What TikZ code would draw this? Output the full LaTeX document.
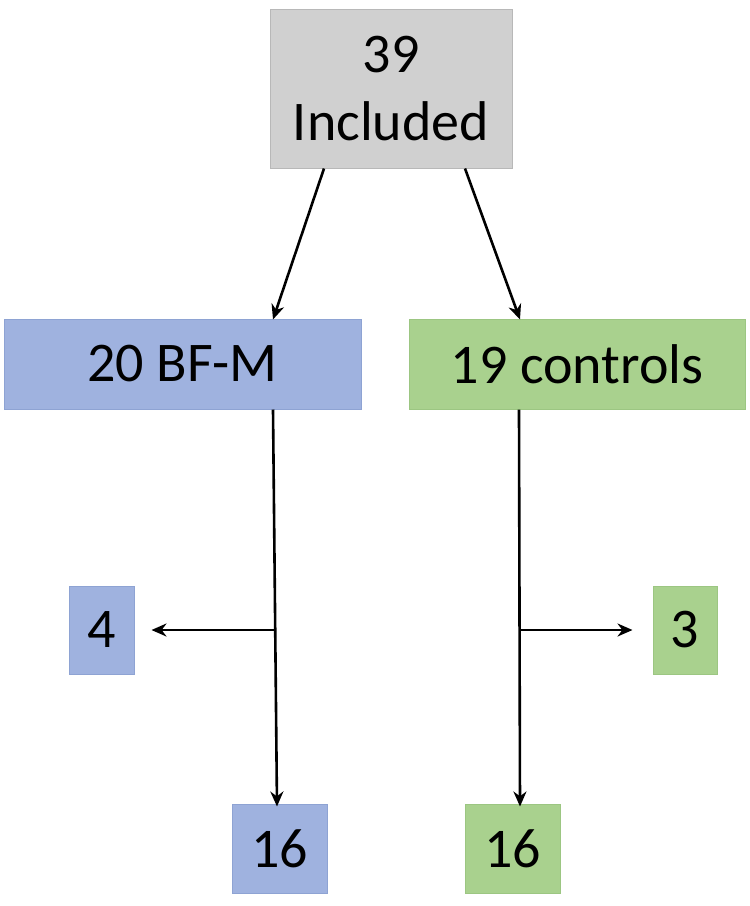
\documentclass[tikz,border=0pt]{standalone}
\usepackage{fontspec}
\setmainfont{Carlito}
\usetikzlibrary{arrows.meta,calc}
\definecolor{graybox}{HTML}{D0D0D0}
\definecolor{grayline}{HTML}{B8B8B8}
\definecolor{bluebox}{HTML}{9FB2DF}
\definecolor{blueline}{HTML}{8EA3D3}
\definecolor{greenbox}{HTML}{A9D18E}
\definecolor{greenline}{HTML}{9CC682}
\tikzset{
  box/.style={rectangle, inner sep=0pt, font=\fontsize{56}{68}\selectfont, text=black, align=center, line width=1pt},
  grayb/.style={box, fill=graybox, draw=grayline},
  blueb/.style={box, fill=bluebox, draw=blueline},
  greenb/.style={box, fill=greenbox, draw=greenline},
  arr/.style={line width=2.6pt, -{Stealth[length=15pt,width=13pt]}}
}
\begin{document}
\begin{tikzpicture}[x=1pt,y=-1pt]
\useasboundingbox (0,0) rectangle (750,906);
\node[grayb, minimum width=242pt, minimum height=159pt] (top) at (391,88.5) {39\\Included};
\node[blueb, minimum width=357pt, minimum height=90pt] (bfm) at (182.5,364) {20 BF-M};
\node[greenb, minimum width=336pt, minimum height=90pt] (ctrl) at (577,364) {19 controls};
\node[blueb, minimum width=65pt, minimum height=88pt] (four) at (101.5,630) {4};
\node[greenb, minimum width=64pt, minimum height=88pt] (three) at (685,630) {3};
\node[blueb, minimum width=95pt, minimum height=89pt] (l16) at (279.5,848.5) {16};
\node[greenb, minimum width=95pt, minimum height=89pt] (r16) at (512.5,848.5) {16};
\coordinate (lbr) at (274.5,630);
\coordinate (rbr) at (519.5,630);
\draw[arr] ([xshift=-67pt]top.south) -- ([xshift=90.5pt,yshift=-1pt]bfm.north);
\draw[arr] ([xshift=74pt]top.south) -- ([xshift=-57pt,yshift=-1pt]ctrl.north);
\draw[arr] ([xshift=90.5pt]bfm.south) -- ([xshift=-2.5pt,yshift=-3pt]l16.north);
\draw[arr] (lbr) -- ([xshift=17pt]four.east);
\draw[arr] ([xshift=-58pt]ctrl.south) -- ([xshift=7.5pt,yshift=-3pt]r16.north);
\draw[arr] (rbr) -- ([xshift=-20pt]three.west);
\end{tikzpicture}
\end{document}
